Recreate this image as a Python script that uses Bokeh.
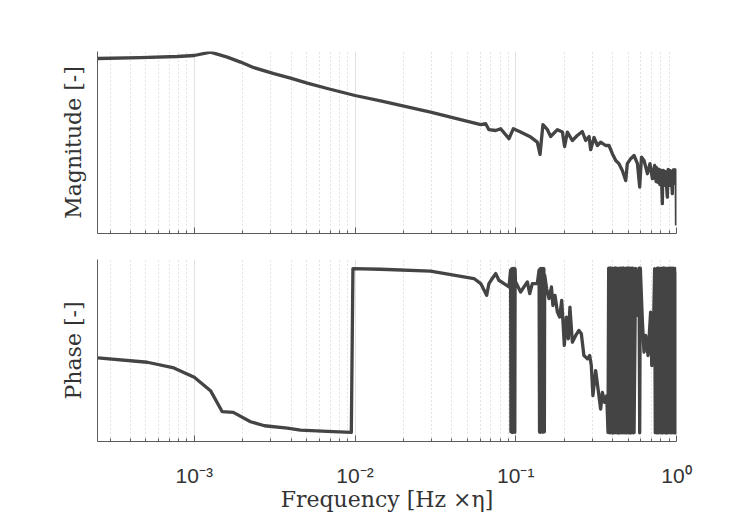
import numpy as np
from bokeh.plotting import figure
from bokeh.layouts import column
from bokeh.models import Range1d, FixedTicker, CustomJSTickFormatter
from bokeh.embed import file_html
from bokeh.resources import INLINE

# ---------------- data ----------------
# log10 of frequency [Hz x eta] and magnitude (arbitrary linear units, 0..91)
mag_logf = [-3.600, -3.334, -3.106, -3.000, -2.899, -2.795, -2.712, -2.629, -2.505, -2.401,
            -2.297, -2.172, -2.000, -1.841, -1.530, -1.218, -1.187, -1.167, -1.125, -1.094,
            -1.042, -1.015, -0.970, -0.907, -0.866, -0.849, -0.831, -0.803, -0.783, -0.741,
            -0.710, -0.696, -0.679, -0.648, -0.617, -0.586, -0.565, -0.544, -0.534, -0.513,
            -0.492, -0.472, -0.441, -0.420, -0.399, -0.378, -0.358, -0.337, -0.316, -0.306,
            -0.285, -0.264, -0.243, -0.229, -0.218, -0.202, -0.181, -0.165, -0.150, -0.136,
            -0.133, -0.130, -0.127, -0.125, -0.122, -0.119, -0.116, -0.113, -0.110, -0.107,
            -0.104, -0.101, -0.098, -0.095, -0.091, -0.088, -0.085, -0.083, -0.080, -0.077,
            -0.074, -0.071, -0.068, -0.065, -0.061, -0.057, -0.054, -0.052, -0.049, -0.047,
            -0.044, -0.042, -0.039, -0.036, -0.033, -0.031, -0.028, -0.026, -0.023, -0.021,
            -0.018, -0.016, -0.013, -0.011, -0.008, -0.006, -0.004, -0.002, 0.000]
magnitude = [87.5, 87.9, 88.5, 89.0, 90.7, 88.2, 85.7, 82.9, 79.9, 77.7,
             75.2, 72.5, 69.0, 66.3, 60.7, 54.4, 54.9, 51.9, 51.5, 52.4,
             47.4, 52.4, 50.7, 48.2, 45.7, 39.5, 54.4, 51.9, 48.5, 51.9,
             50.7, 43.5, 50.7, 46.5, 49.0, 51.0, 46.5, 48.5, 41.9, 48.0,
             44.0, 45.7, 44.0, 44.0, 39.9, 36.5, 34.9, 31.5, 26.5, 34.9,
             37.4, 39.0, 34.9, 23.2, 38.2, 36.5, 29.9, 34.9, 27.4, 34.0,
             27.5, 32.5, 26.0, 33.0, 27.0, 32.4, 25.6, 31.8, 26.5, 32.0,
             24.5, 31.0, 25.8, 31.5, 22.0, 14.9, 30.5, 31.5, 25.0, 31.2,
             26.0, 31.0, 24.0, 30.5, 22.5, 18.2, 29.0, 32.0, 25.5, 31.5,
             26.5, 31.5, 24.0, 31.0, 25.0, 30.8, 23.0, 19.9, 30.0, 31.8,
             25.0, 31.0, 26.5, 31.9, 25.5, 31.0, 26.0, 31.5, 4.0]

# log10 of frequency and phase in degrees (wrapped to +-180)
phase_logf = [-3.600, -3.292, -3.127, -3.000, -2.899, -2.826, -2.757, -2.650, -2.563, -2.421,
              -2.339, -2.172, -2.023, -2.013, -1.841, -1.530, -1.260, -1.218, -1.181, -1.167,
              -1.146, -1.125, -1.105, -1.073, -1.042, -1.032, -1.030, -1.028, -1.026, -1.024,
              -1.022, -1.020, -1.018, -1.016, -1.014, -1.012, -1.010, -1.008, -1.006, -1.004,
              -1.002,
              -0.970, -0.928, -0.913, -0.897, -0.866, -0.855, -0.852, -0.849, -0.846, -0.843,
              -0.840, -0.837, -0.834, -0.831, -0.828, -0.825, -0.822,
              -0.820, -0.808, -0.793, -0.778, -0.769, -0.756, -0.741, -0.727, -0.714, -0.706,
              -0.698, -0.685, -0.673, -0.663, -0.648, -0.627, -0.607, -0.592, -0.576, -0.554,
              -0.540, -0.530, -0.520, -0.503, -0.488, -0.472, -0.461, -0.447, -0.434, -0.426,
              -0.422, -0.417, -0.412, -0.407, -0.402, -0.397, -0.392, -0.387, -0.382, -0.377,
              -0.372, -0.367, -0.362, -0.357, -0.352, -0.347, -0.342, -0.337, -0.332, -0.327,
              -0.322, -0.317, -0.312, -0.307, -0.302, -0.297, -0.292, -0.287, -0.282, -0.277,
              -0.272, -0.267, -0.264, -0.2545, -0.248, -0.233, -0.229, -0.225, -0.212, -0.202,
              -0.192, -0.177, -0.161, -0.154, -0.144, -0.136, -0.132, -0.128, -0.123, -0.119,
              -0.115, -0.110, -0.105, -0.100, -0.095, -0.090, -0.085, -0.080, -0.075, -0.070,
              -0.065, -0.060, -0.055, -0.050, -0.045, -0.040, -0.035, -0.030, -0.025, -0.020,
              -0.015, -0.010, -0.005, 0.000]
phase = [-15.9, -25.5, -37.7, -58.1, -87.1, -132.8, -134.3, -154.5, -163.2, -168.2,
         -172.6, -175.6, -177.8, 177.8, 176.3, 172.0, 156.1, 145.2, 119.7, 145.2,
         156.1, 166.9, 152.4, 145.2, 137.8, 174.1, -176.0, 176.0, -177.0, 177.5,
         -178.0, 176.5, -177.5, 178.0, -176.5, 177.0, -177.0, 178.0, -177.5, 176.5,
         150.0,
         126.9, 148.7, 123.4, 145.2, 145.2, 174.1, -177.0, 177.0, -177.5, 178.0,
         -176.5, 177.0, -177.0, 178.0, -177.0, 177.5, -176.5,
         163.2, 134.3, 112.5, 137.8, 97.9, 119.7, 83.4, 72.5, 108.8, 61.6,
         10.9, 72.5, 25.5, 94.2, 18.1, 32.6, 43.5, 36.4, -10.9, -18.1,
         -10.9, -32.6, -97.9, -43.5, -83.4, -126.9, -90.8, -112.5, -97.9, -177.8,
         178.4, -178.6, 179.0, -178.2, 178.7, -179.1, 178.1, -178.5, 179.2, -177.9,
         178.6, -178.8, 178.3, -179.0, 178.9, -178.3, 178.5, -178.7, 179.1, -178.1,
         178.2, -178.9, 178.8, -178.4, 179.0, -178.6, 178.4, -179.2, 178.7, -178.0,
         178.9, -178.5, -178.3, 178.2, 76.2, 178.5, -178.4, 178.6, 61.6, -3.7,
         32.6, -10.9, 83.4, -32.6, 25.5, 177.8, -178.2, 39.8, -178.6, 178.4,
         -178.7, 178.9, -178.1, 178.3, -178.9, 178.7, -178.4, 179.1, -178.2, 178.5,
         -179.0, 178.2, -178.6, 178.8, -178.3, 178.4, -178.8, 178.6, -178.1, 178.9,
         -178.7, 178.1, -178.4, 170.0]

major_ticks = [1e-3, 1e-2, 1e-1, 1.0]
tick_labels = ["10\u207b\u00b3", "10\u207b\u00b2", "10\u207b\u00b9", "10\u2070"]
x_label = "Frequency [Hz \u00d7\u03b7]"
mag_label = "Magnitude [-]"
phase_label = "Phase [-]"

# ---------------- styling ----------------
LINE = "#444444"
AX = "#5c5c5c"
TXT = "#333333"
minor_ticks = [m * 10.0 ** e for e in (-4, -3, -2, -1) for m in range(2, 10) if m * 10.0 ** e >= 2.5e-4]

mag_f = np.power(10.0, np.array(mag_logf))
ph_f = np.power(10.0, np.array(phase_logf))


def base(height, top, bottom, yr):
    p = figure(width=730, height=height, x_axis_type="log",
               x_range=Range1d(2.5e-4, 1.0), y_range=yr,
               output_backend="svg", toolbar_location=None,
               min_border_left=97, min_border_right=54,
               min_border_top=top, min_border_bottom=bottom)
    p.outline_line_color = None
    p.background_fill_color = "white"
    p.border_fill_color = "white"
    tk = FixedTicker(ticks=major_ticks, minor_ticks=minor_ticks)
    p.xaxis.ticker = tk
    p.xgrid.ticker = tk
    p.xgrid.grid_line_color = "#e2e2e2"
    p.xgrid.grid_line_width = 1
    p.xgrid.minor_grid_line_color = "#c8c8c8"
    p.xgrid.minor_grid_line_dash = "1 3"
    p.ygrid.visible = False
    ax = p.xaxis[0]
    ax.axis_line_color = AX
    ax.major_tick_line_color = AX
    ax.minor_tick_line_color = AX
    ax.major_tick_in = 6
    ax.major_tick_out = 0
    ax.minor_tick_in = 3
    ax.minor_tick_out = 0
    ay = p.yaxis[0]
    ay.axis_line_color = AX
    ay.major_tick_in = 0
    ay.major_tick_out = 0
    ay.minor_tick_in = 0
    ay.minor_tick_out = 0
    ay.major_tick_line_color = None
    ay.minor_tick_line_color = None
    ay.formatter = CustomJSTickFormatter(code="return ''")
    ay.major_label_text_font_size = "1px"
    ay.major_label_standoff = 0
    ay.axis_label_standoff = 12
    ay.axis_label_text_font = "DejaVu Serif"
    ay.axis_label_text_font_size = "22px"
    ay.axis_label_text_font_style = "normal"
    ay.axis_label_text_color = TXT
    return p


p1 = base(246, 51, 13, Range1d(0, 91))
p1.xaxis.formatter = CustomJSTickFormatter(code="return ''")
p1.xaxis.major_label_text_font_size = "1px"
p1.xaxis.major_label_standoff = 0
p1.yaxis.axis_label = mag_label
p1.line(mag_f, magnitude, line_color=LINE, line_width=3.3, line_join="round")

p2 = base(271, 13, 76, Range1d(-197.4, 197.4))
p2.xaxis.formatter = CustomJSTickFormatter(
    args=dict(labels=tick_labels),
    code="const i = Math.round(Math.log10(tick)) + 3; return labels[i];")
p2.xaxis.major_label_text_font = "Liberation Sans"
p2.xaxis.major_label_text_font_size = "21px"
p2.xaxis.major_label_text_color = TXT
p2.xaxis.major_label_standoff = 22
p2.xaxis.axis_label = x_label
p2.xaxis.axis_label_standoff = -3
p2.xaxis.axis_label_text_font = "DejaVu Serif"
p2.xaxis.axis_label_text_font_size = "22px"
p2.xaxis.axis_label_text_font_style = "normal"
p2.xaxis.axis_label_text_color = TXT
p2.yaxis.axis_label = phase_label
p2.line(ph_f, phase, line_color=LINE, line_width=3.3, line_join="round")

layout = column(p1, p2, spacing=0)
open("out.html", "w").write(file_html(layout, INLINE))
